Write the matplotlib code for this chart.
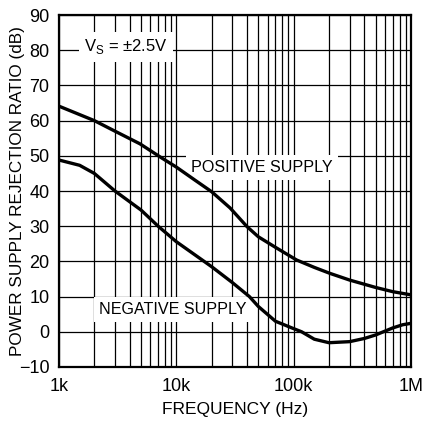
import matplotlib
matplotlib.use("Agg")
import matplotlib.pyplot as plt
from matplotlib.ticker import FixedLocator, NullFormatter

plt.rcParams['font.family'] = ['Liberation Sans', 'DejaVu Sans']
plt.rcParams['mathtext.fontset'] = 'custom'
plt.rcParams['mathtext.rm'] = 'Liberation Sans'

pos_freq = [1e3, 2e3, 3e3, 4.9e3, 7.5e3, 10e3, 14.4e3, 20e3, 28.7e3, 40e3, 50e3, 70e3, 106e3,
            150e3, 204e3, 300e3, 500e3, 700e3, 1e6]
pos_db = [64.1, 60.0, 57.0, 53.4, 49.4, 46.8, 43.1, 39.8, 35.2, 29.9, 27.0, 24.0, 20.4,
          18.3, 16.6, 14.7, 12.6, 11.4, 10.5]

neg_freq = [1e3, 1.5e3, 2e3, 3e3, 5e3, 7e3, 10e3, 20e3, 30e3, 42e3, 50e3, 70e3, 100e3,
            117e3, 150e3, 200e3, 300e3, 400e3, 500e3, 700e3, 850e3, 1e6]
neg_db = [48.8, 47.3, 45.0, 40.0, 34.6, 30.0, 25.6, 18.5, 14.0, 10.0, 7.2, 3.0, 0.9,
          0.0, -2.1, -3.1, -2.8, -1.9, -0.9, 1.1, 2.0, 2.4]

y_ticks = [-10, 0, 10, 20, 30, 40, 50, 60, 70, 80, 90]
x_ticks = [1e3, 1e4, 1e5, 1e6]
x_labels = ['1k', '10k', '100k', '1M']

fig = plt.figure(figsize=(4.22, 4.23), dpi=100)
ax = fig.add_axes([0.1398, 0.1324, 0.834, 0.8321])

ax.set_xscale('log')
ax.set_xlim(1e3, 1e6)
ax.set_ylim(-10, 90)

minor = [m * 10 ** d for d in range(3, 6) for m in range(2, 10)]
ax.xaxis.set_major_locator(FixedLocator(x_ticks))
ax.xaxis.set_minor_locator(FixedLocator(minor))
ax.xaxis.set_minor_formatter(NullFormatter())
ax.set_xticklabels(x_labels)
ax.set_yticks(y_ticks)
ax.set_yticklabels([str(v).replace('-', '\u2212') for v in y_ticks])

ax.grid(True, which='both', axis='x', color='black', linewidth=0.9)
ax.grid(True, which='major', axis='y', color='black', linewidth=0.9)
ax.tick_params(which='both', length=0, labelsize=13)
ax.tick_params(axis='x', pad=8)
ax.tick_params(axis='y', pad=7)
for s in ax.spines.values():
    s.set_linewidth(1.6)

ax.plot(pos_freq, pos_db, color='black', linewidth=2.4, zorder=5)
ax.plot(neg_freq, neg_db, color='black', linewidth=2.4, zorder=5)

box = dict(facecolor='white', edgecolor='none', pad=3.5)
ax.text(3.73e3, 81, r'V$_\mathregular{S}$ = $\pm$2.5V', fontsize=12, ha='center',
        va='center', bbox=dict(facecolor='white', edgecolor='none', pad=4), zorder=4)
ax.text(53.8e3, 46.7, 'POSITIVE SUPPLY', fontsize=11.6, ha='center', va='center',
        bbox=box, zorder=4)
ax.text(9.3e3, 6.3, 'NEGATIVE SUPPLY', fontsize=11.6, ha='center', va='center',
        bbox=box, zorder=4)

ax.set_xlabel('FREQUENCY (Hz)', fontsize=12.5, va='center')
ax.set_ylabel('POWER SUPPLY REJECTION RATIO (dB)', fontsize=12.3, va='center')
ax.xaxis.set_label_coords(0.5, -0.122)
ax.yaxis.set_label_coords(-0.119, 0.5)

fig.savefig('out.png', dpi=100)
